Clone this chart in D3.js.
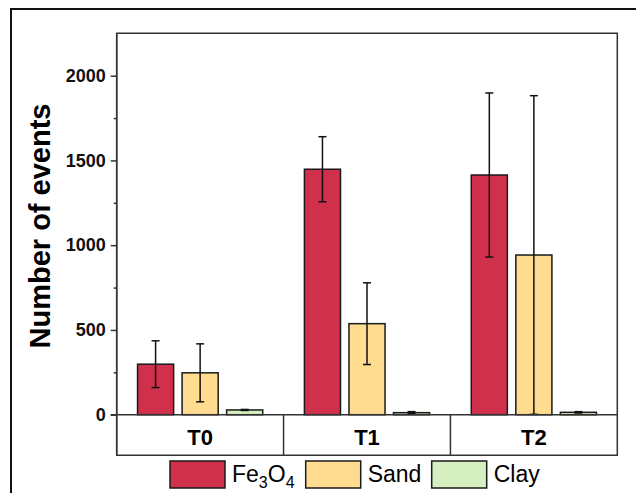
<!DOCTYPE html>
<html>
<head>
<meta charset="utf-8">
<script src="https://cdn.jsdelivr.net/npm/d3@7"></script>
<style>
  body { margin: 0; background: #fff; }
  svg { display: block; font-family: "Liberation Sans", Arial, sans-serif; }
</style>
</head>
<body>
<div id="chart"></div>
<script>
// data
const categories = ["T0", "T1", "T2"];
const seriesNames = ["Fe3O4", "Sand", "Clay"];
const feValues = [298, 1448, 1414];
const feErrors = [138, 192, 484];
const sandValues = [247, 537, 942];
const sandErrors = [171, 241, 940];
const clayValues = [28, 12, 14];
const clayErrors = [3, 6, 4];
const yTicks = [0, 500, 1000, 1500, 2000];
const yMinorTicks = [250, 750, 1250, 1750];

const colors = {Fe3O4: "#d0304c", Sand: "#ffdc8f", Clay: "#d6efc0"};

const width = 636, height = 493;
const margin = {top: 33.3, left: 116.7, right: 18.7, base: 414.7, tableBottom: 455.3};

const svg = d3.select("#chart").append("svg")
    .attr("width", width)
    .attr("height", height);

// outer frame (only top and left show in the window)
svg.append("rect")
    .attr("x", 11).attr("y", 9)
    .attr("width", 700).attr("height", 600)
    .attr("fill", "none")
    .attr("stroke", "#111")
    .attr("stroke-width", 2);

const x = d3.scaleBand()
    .domain(categories)
    .range([margin.left, width - margin.right]);

const xInner = d3.scaleBand()
    .domain(seriesNames)
    .range([0, x.bandwidth()])
    .paddingInner(0.19)
    .paddingOuter(0.468);

const y = d3.scaleLinear()
    .domain([0, 2250])
    .range([margin.base, margin.top]);

// rows for bars
const rows = [];
categories.forEach((c, i) => {
    rows.push({cat: c, s: "Fe3O4", v: feValues[i], e: feErrors[i]});
    rows.push({cat: c, s: "Sand", v: sandValues[i], e: sandErrors[i]});
    rows.push({cat: c, s: "Clay", v: clayValues[i], e: clayErrors[i]});
});

const lineColor = "#333";

// bars
svg.append("g").selectAll("rect")
    .data(rows)
    .enter()
    .append("rect")
    .attr("x", d => x(d.cat) + xInner(d.s))
    .attr("y", d => y(d.v))
    .attr("width", xInner.bandwidth())
    .attr("height", d => y(0) - y(d.v))
    .attr("fill", d => colors[d.s])
    .attr("stroke", "#1a1a1a")
    .attr("stroke-width", 1.5);

// error bars
const err = svg.append("g").selectAll("g")
    .data(rows)
    .enter()
    .append("g")
    .attr("stroke", "#111")
    .attr("stroke-width", 1.5);

const cx = d => x(d.cat) + xInner(d.s) + xInner.bandwidth() / 2;
const capW = 4;

err.append("line")
    .attr("x1", cx).attr("x2", cx)
    .attr("y1", d => y(d.v + d.e))
    .attr("y2", d => y(Math.max(0, d.v - d.e)));
err.append("line")
    .attr("x1", d => cx(d) - capW).attr("x2", d => cx(d) + capW)
    .attr("y1", d => y(d.v + d.e)).attr("y2", d => y(d.v + d.e));
err.append("line")
    .attr("x1", d => cx(d) - capW).attr("x2", d => cx(d) + capW)
    .attr("y1", d => y(Math.max(0, d.v - d.e))).attr("y2", d => y(Math.max(0, d.v - d.e)));

// plot frame: top, right, baseline
const x0 = margin.left, x1 = width - margin.right;
svg.append("path")
    .attr("d", `M${x0},${margin.top}H${x1}V${margin.tableBottom}H${x0}Z`)
    .attr("fill", "none")
    .attr("stroke", lineColor)
    .attr("stroke-width", 1.5);
svg.append("line")
    .attr("x1", x0 - 6).attr("x2", x1)
    .attr("y1", y(0)).attr("y2", y(0))
    .attr("stroke", lineColor)
    .attr("stroke-width", 1.5);

// category table separators
svg.append("g").selectAll("line")
    .data(categories.slice(1))
    .enter()
    .append("line")
    .attr("x1", d => x(d)).attr("x2", d => x(d))
    .attr("y1", y(0)).attr("y2", margin.tableBottom)
    .attr("stroke", lineColor)
    .attr("stroke-width", 1.5);

svg.append("g").selectAll("text")
    .data(categories)
    .enter()
    .append("text")
    .attr("x", d => x(d) + x.bandwidth() / 2)
    .attr("y", 444.5)
    .attr("text-anchor", "middle")
    .style("font-size", "22px")
    .style("font-weight", "bold")
    .text(d => d);

// y axis
const yAxis = svg.append("g")
    .attr("transform", `translate(${x0},0)`)
    .call(d3.axisLeft(y).tickValues(yTicks).tickFormat(d3.format("d")).tickSize(6).tickPadding(5));
yAxis.select(".domain").remove();
yAxis.selectAll("line").attr("stroke", lineColor).attr("stroke-width", 1.5);
yAxis.selectAll("text")
    .attr("fill", "#111")
    .style("font-size", "18px")
    .style("font-weight", "bold")
    .style("font-family", "Liberation Sans, Arial, sans-serif");

svg.append("g")
    .attr("transform", `translate(${x0},0)`)
    .call(d3.axisLeft(y).tickValues(yMinorTicks).tickSize(3).tickFormat(""))
    .call(g => g.select(".domain").remove())
    .selectAll("line").attr("stroke", lineColor).attr("stroke-width", 1.5);

svg.append("line")
    .attr("x1", x0).attr("x2", x0)
    .attr("y1", margin.top).attr("y2", margin.tableBottom)
    .attr("stroke", lineColor)
    .attr("stroke-width", 1.5);

svg.append("text")
    .attr("transform", `translate(50, ${(margin.top + margin.base) / 2 + 2}) rotate(-90)`)
    .attr("text-anchor", "middle")
    .style("font-size", "29px")
    .style("font-weight", "bold")
    .text("Number of events");

// legend
const legendX = [170, 305.7, 431.7];
const legend = svg.append("g").selectAll("g")
    .data(seriesNames)
    .enter()
    .append("g")
    .attr("transform", (d, i) => `translate(${legendX[i]}, 461)`);

legend.append("rect")
    .attr("width", 55).attr("height", 27)
    .attr("fill", d => colors[d])
    .attr("stroke", "#1a1a1a")
    .attr("stroke-width", 1.5);

const legendText = legend.append("text")
    .attr("x", 62)
    .attr("y", 21)
    .style("font-size", "23px");

legendText.each(function(d) {
    const t = d3.select(this);
    if (d === "Fe3O4") {
        t.append("tspan").text("Fe");
        t.append("tspan").attr("dy", 6).style("font-size", "16px").text("3");
        t.append("tspan").attr("dy", -6).text("O");
        t.append("tspan").attr("dy", 6).style("font-size", "16px").text("4");
    } else {
        t.text(d);
    }
});
</script>
</body>
</html>
